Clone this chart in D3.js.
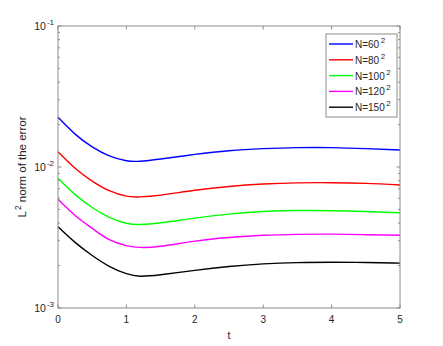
<!DOCTYPE html>
<html>
<head>
<meta charset="utf-8">
<script src="https://cdn.jsdelivr.net/npm/d3@7"></script>
<style>
  body { margin: 0; background: #fff; }
  svg { font-family: "Liberation Sans", Arial, sans-serif; }
</style>
</head>
<body>
<svg id="chart"></svg>
<script>
const width = 443;
const height = 346;

// sample times
const t = [0, 0.25, 0.5, 0.75, 1, 1.2, 1.5, 2, 2.5, 3, 3.5, 4, 4.5, 5];

// L2 error per grid
const n60 = [0.02252, 0.01711, 0.01389, 0.01200, 0.01108, 0.01099, 0.01140, 0.01228, 0.01305, 0.01350, 0.01373, 0.01373, 0.01351, 0.01320];
const n80 = [0.01284, 0.00981, 0.00795, 0.00679, 0.00621, 0.00614, 0.00632, 0.00684, 0.00728, 0.00757, 0.00772, 0.00774, 0.00765, 0.00745];
const n100 = [0.00832, 0.00637, 0.00516, 0.00440, 0.00399, 0.00391, 0.00402, 0.00434, 0.00463, 0.00483, 0.00491, 0.00490, 0.00483, 0.00474];
const n120 = [0.00590, 0.00453, 0.00367, 0.00305, 0.00277, 0.00269, 0.00274, 0.00298, 0.00316, 0.00328, 0.00333, 0.00334, 0.00331, 0.00328];
const n150 = [0.00377, 0.00292, 0.002357, 0.001976, 0.001751, 0.00168, 0.00172, 0.00185, 0.001970, 0.002055, 0.002099, 0.002109, 0.002102, 0.00208];

const seriesNames = ["60", "80", "100", "120", "150"];
const seriesValues = [n60, n80, n100, n120, n150];
const colors = ["#0000ff", "#ff0000", "#00ff00", "#ff00ff", "#000000"];

const xTicks = [0, 1, 2, 3, 4, 5];
const yTickExp = [-1, -2, -3];

const margin = { top: 26, right: 43, bottom: 38, left: 58 };
const innerW = width - margin.left - margin.right;
const innerH = height - margin.top - margin.bottom;

const svg = d3.select("#chart")
  .attr("width", width)
  .attr("height", height);

const g = svg.append("g")
  .attr("transform", `translate(${margin.left},${margin.top})`);

const x = d3.scaleLinear().domain([0, 5]).range([0, innerW]);
const y = d3.scaleLog().domain([1e-3, 1e-1]).range([innerH, 0]);

const axisColor = "#8c8c8c";
const textColor = "#262626";

// minor ticks for log axis
const minor = [];
for (let e = -3; e < -1; e++) {
  for (let m = 2; m <= 9; m++) minor.push(m * Math.pow(10, e));
}

// curves
const line = d3.line()
  .x((d, i) => x(t[i]))
  .y(d => y(d))
  .curve(d3.curveNatural);

g.selectAll("path.series")
  .data(seriesValues)
  .join("path")
  .attr("class", "series")
  .attr("d", d => line(d))
  .attr("fill", "none")
  .attr("stroke", (d, i) => colors[i])
  .attr("stroke-width", 1.4);

// box
g.append("rect")
  .attr("width", innerW)
  .attr("height", innerH)
  .attr("fill", "none")
  .attr("stroke", axisColor)
  .attr("stroke-width", 1);

// x ticks (bottom + top, inward)
xTicks.forEach(v => {
  g.append("line").attr("x1", x(v)).attr("x2", x(v))
    .attr("y1", innerH).attr("y2", innerH - 3.5).attr("stroke", axisColor);
  g.append("line").attr("x1", x(v)).attr("x2", x(v))
    .attr("y1", 0).attr("y2", 3.5).attr("stroke", axisColor);
  g.append("text")
    .attr("x", x(v)).attr("y", innerH + 15)
    .attr("text-anchor", "middle")
    .attr("font-size", 10).attr("fill", textColor)
    .text(v);
});

// y ticks (left + right)
yTickExp.forEach(e => {
  const yy = y(Math.pow(10, e));
  g.append("line").attr("x1", 0).attr("x2", 3.5)
    .attr("y1", yy).attr("y2", yy).attr("stroke", axisColor);
  g.append("line").attr("x1", innerW).attr("x2", innerW - 3.5)
    .attr("y1", yy).attr("y2", yy).attr("stroke", axisColor);
  const lbl = g.append("text")
    .attr("x", -4).attr("y", yy + 4)
    .attr("text-anchor", "end")
    .attr("font-size", 10.5).attr("fill", textColor);
  lbl.append("tspan").text("10");
  lbl.append("tspan").attr("dy", -5).attr("dx", 1).attr("font-size", 8).text(e);
});
minor.forEach(v => {
  const yy = y(v);
  g.append("line").attr("x1", 0).attr("x2", 2)
    .attr("y1", yy).attr("y2", yy).attr("stroke", axisColor);
  g.append("line").attr("x1", innerW).attr("x2", innerW - 2)
    .attr("y1", yy).attr("y2", yy).attr("stroke", axisColor);
});

// axis labels
g.append("text")
  .attr("x", innerW / 2).attr("y", innerH + 31)
  .attr("text-anchor", "middle")
  .attr("font-size", 10.5).attr("fill", textColor)
  .text("t");

const yl = svg.append("text")
  .attr("transform", `translate(26,${margin.top + innerH / 2}) rotate(-90)`)
  .attr("text-anchor", "middle")
  .attr("font-size", 11.5).attr("fill", textColor);
yl.append("tspan").text("L");
yl.append("tspan").attr("dy", -5).attr("dx", 1).attr("font-size", 8.5).text("2");
yl.append("tspan").attr("dy", 5).text(" norm of the error");

// legend
const legend = svg.append("g").attr("transform", "translate(326,34)");
legend.append("rect")
  .attr("width", 71).attr("height", 83)
  .attr("fill", "#fff").attr("stroke", axisColor);
seriesNames.forEach((n, i) => {
  const ly = 10 + i * 15.8;
  legend.append("line")
    .attr("x1", 3).attr("x2", 27)
    .attr("y1", ly).attr("y2", ly)
    .attr("stroke", colors[i]).attr("stroke-width", 1.4);
  const tx = legend.append("text")
    .attr("x", 29).attr("y", ly + 4)
    .attr("font-size", 10).attr("fill", textColor);
  tx.append("tspan").text("N=" + n);
  tx.append("tspan").attr("dy", -5).attr("dx", 1.5).attr("font-size", 8).text("2");
});
</script>
</body>
</html>
